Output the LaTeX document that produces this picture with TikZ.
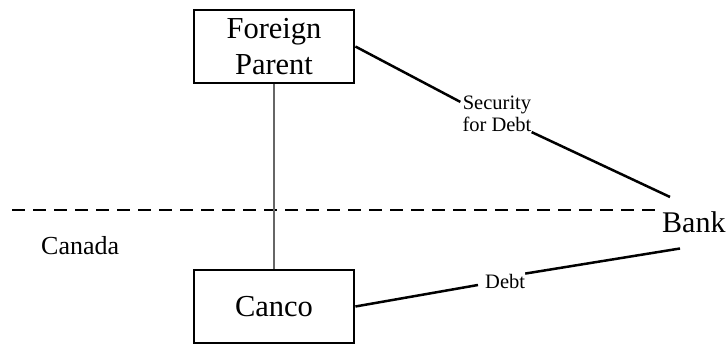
\documentclass[tikz,border=0pt]{standalone}
\usepackage{fontspec}
\setmainfont{Liberation Serif}
\usetikzlibrary{calc}
\begin{document}
\begin{tikzpicture}[x=1pt,y=-1pt,
  entity/.style={draw,line width=2.8pt,minimum width=160pt,minimum height=73pt,inner sep=0pt,align=center,font=\fontsize{30.5}{36}\selectfont},
  bigtext/.style={inner sep=0pt,font=\fontsize{30}{36}\selectfont},
  small/.style={inner sep=0pt,align=center,font=\fontsize{20.5}{22}\selectfont},
  link/.style={line width=2.5pt,black},
  tie/.style={line width=2.3pt,black!60}]
\useasboundingbox (0,0) rectangle (726,345);
\node[entity] (fp) at (274,46.5) {Foreign\\Parent};
\node[entity] (canco) at (274,306.5) {Canco};
\node[bigtext,anchor=base west] (bank) at (662,232) {Bank};
\node[inner sep=0pt,anchor=base west,font=\fontsize{26}{30}\selectfont] (canada) at (41,254) {Canada};
\node[small] (sec) at (497,114) {Security\\for Debt};
\node[small,anchor=base west] (debt) at (485,288) {Debt};
\coordinate (dl) at (12,210);
\coordinate (dr) at (657,210);
\draw[line width=2.5pt,dash pattern=on 13pt off 8pt] (dl) -- (dr);
\draw[tie] (fp.south) -- (canco.north);
\draw[link] (fp.east) -- ($(sec.north west)+(-2,6)$);
\draw[link] (sec.south east) -- ($(bank.north west)+(8,-14)$);
\draw[link] (canco.east) -- ($(debt.west)+(-7,4)$);
\draw[link] (debt.north east) -- ($(bank.south west)+(18,16)$);
\end{tikzpicture}
\end{document}
